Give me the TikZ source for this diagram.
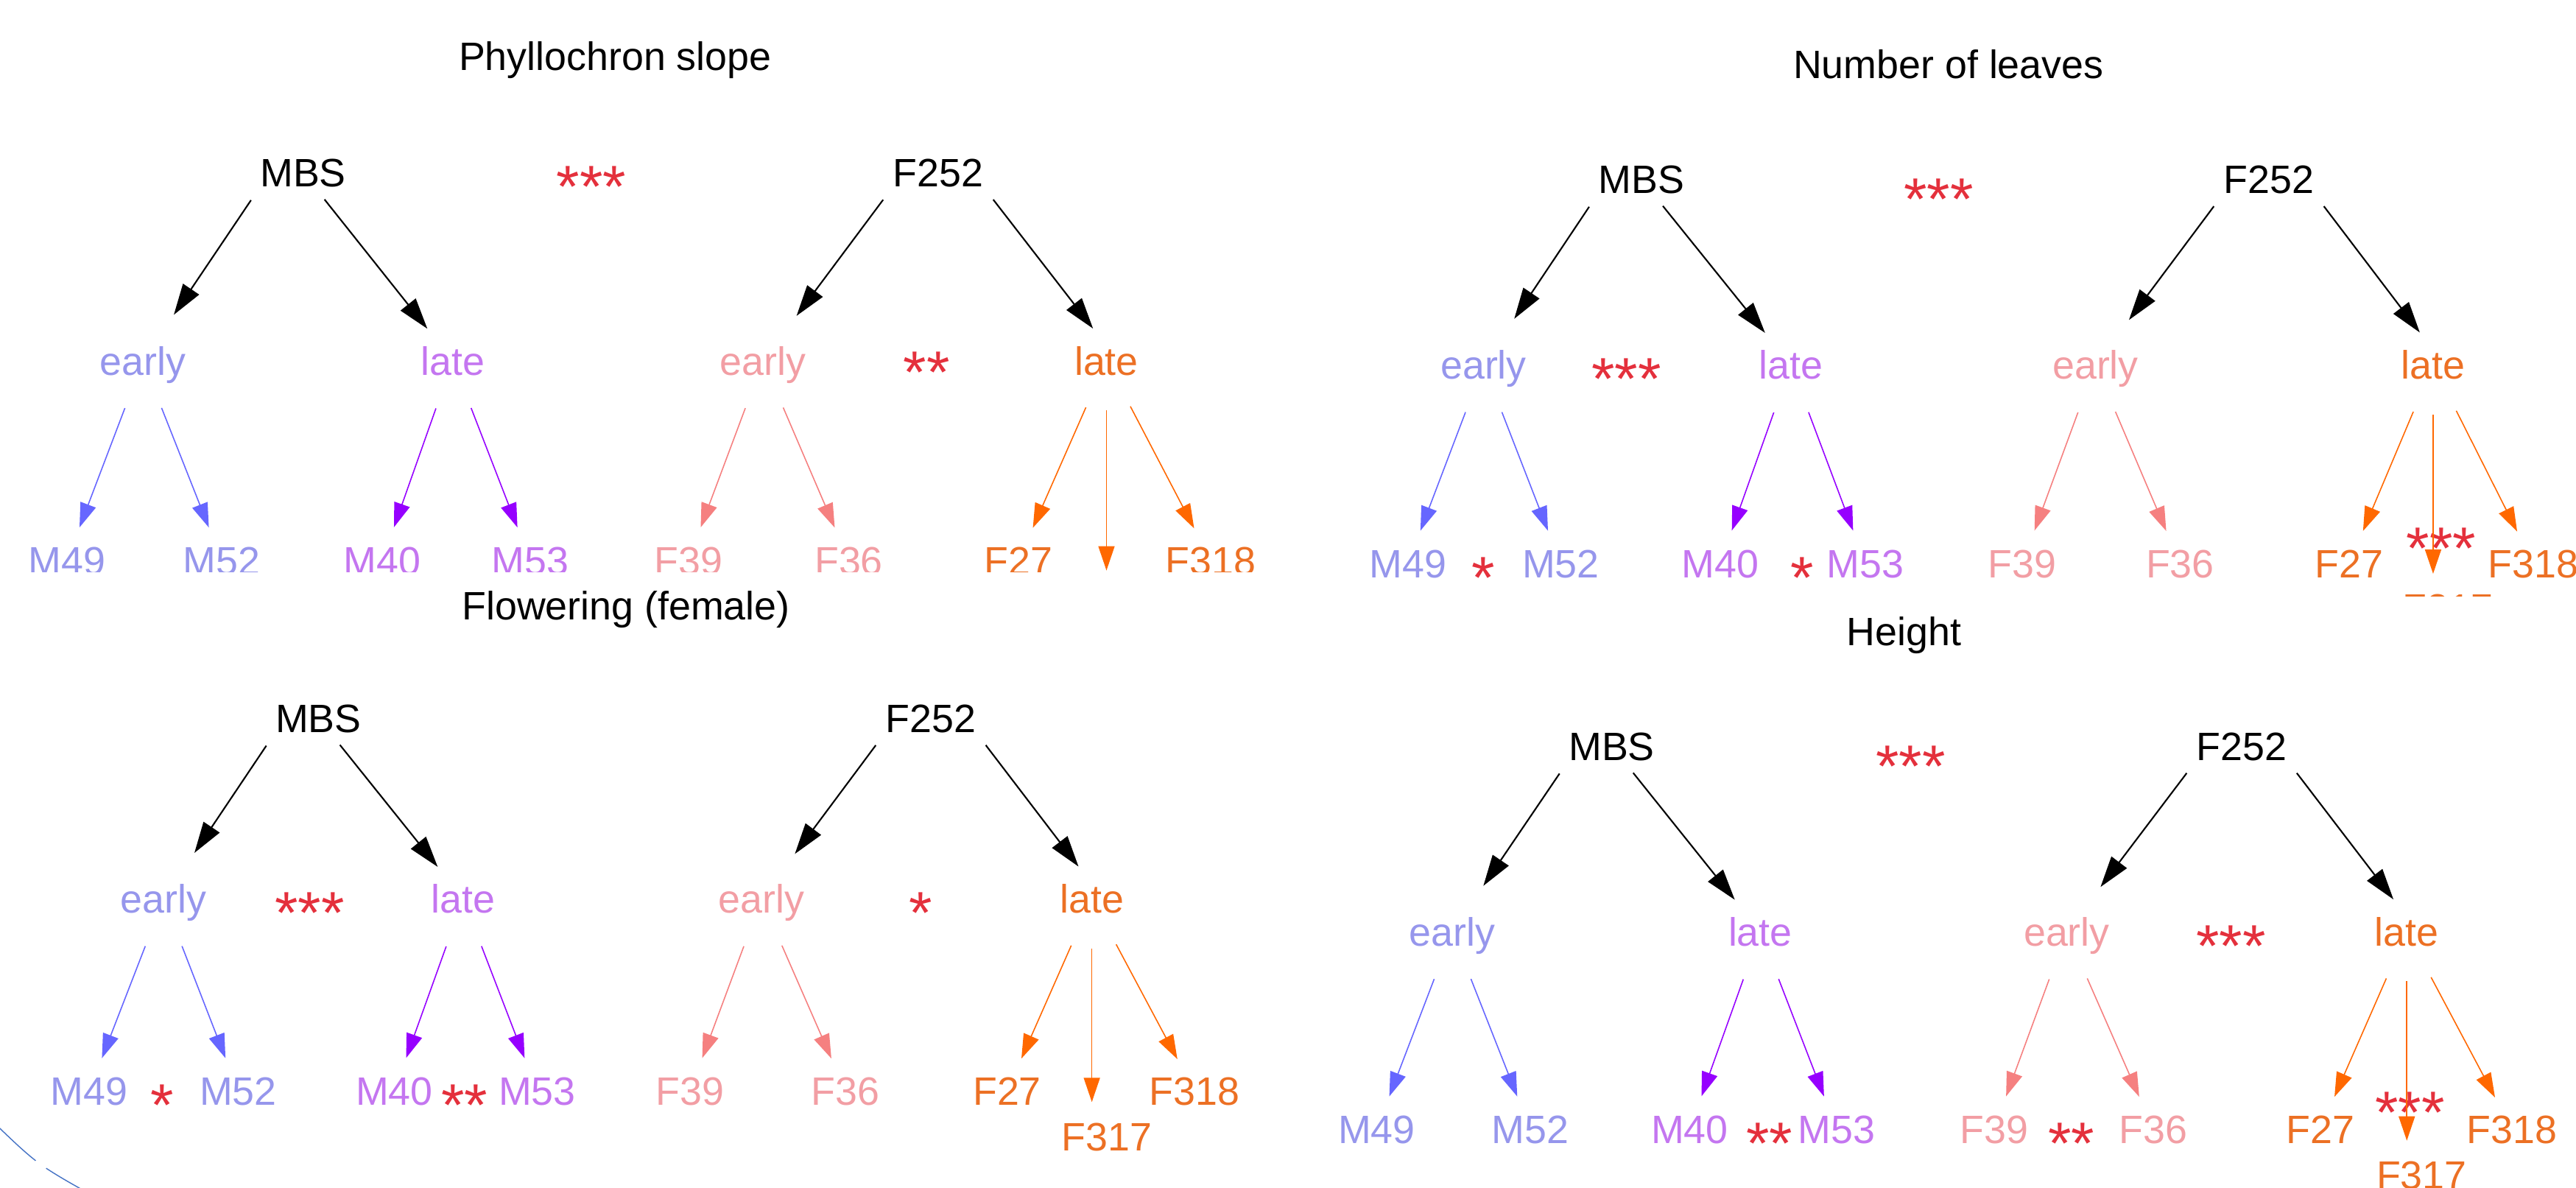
\documentclass[tikz,border=0pt]{standalone}
\usepackage{fontspec}
\setmainfont{Liberation Sans}
\usepackage{tikz}
\usetikzlibrary{arrows.meta}

\definecolor{earlyMtxt}{RGB}{150,150,236}
\definecolor{earlyMarr}{RGB}{102,102,255}
\definecolor{lateMtxt}{RGB}{196,118,240}
\definecolor{lateMarr}{RGB}{150,0,255}
\definecolor{earlyFtxt}{RGB}{242,158,164}
\definecolor{earlyFarr}{RGB}{245,128,128}
\definecolor{lateFtxt}{RGB}{236,112,36}
\definecolor{lateFarr}{RGB}{255,104,0}
\definecolor{sigred}{RGB}{228,48,60}
\definecolor{slideblue}{RGB}{68,114,196}

\begin{document}
\begin{tikzpicture}[
    x=0.022309cm, y=-0.022309cm,
    lbl/.style={inner sep=0pt, text height=11pt, text depth=0pt, font=\fontsize{15.3}{18}\selectfont},
    root/.style={lbl, text=black},
    earlyM/.style={lbl, text=earlyMtxt},
    lateM/.style={lbl, text=lateMtxt},
    earlyF/.style={lbl, text=earlyFtxt},
    lateF/.style={lbl, text=lateFtxt},
    sig/.style={inner sep=0pt, anchor=base, yshift=-13.4pt, text=sigred, font=\fontsize{23}{26}\selectfont},
    topedge/.style={-{Triangle[length=0.42cm, width=0.26cm]}, line width=0.6pt, shorten <=6pt, shorten >=8.5pt},
    lowedge/.style={-{Triangle[length=0.33cm, width=0.22cm]}, line width=0.45pt, shorten <=13.5pt, shorten >=7.5pt},
    slide/.style={draw=slideblue, line width=0.4pt}]

\useasboundingbox (0,0) rectangle (1568,722.6);

% Phyllochron slope
\begin{scope}[name prefix=ph-]
\clip (0,0) rectangle (790,348);
\node[root] (ttl) at (374.4,34) {Phyllochron slope};
\node[root] (mbs) at (184.5,105) {MBS};
\node[sig] (s0) at (360,105) {***};
\node[root] (f252) at (571,105) {F252};
% groups
\node[earlyM] (em) at (87,219.5) {early};
\node[lateM] (lm) at (275.6,219.5) {late};
\node[earlyF] (ef) at (464.5,219.5) {early};
\node[sig] (s1) at (564,218) {**};
\node[lateF] (lf) at (673.5,219.5) {late};
% lines
\node[earlyM] (m49) at (40.8,341) {M49};
\node[earlyM] (m52) at (135,341) {M52};
\node[lateM] (m40) at (232.7,341) {M40};
\node[lateM] (m53) at (322.7,341) {M53};
\node[earlyF] (f39) at (419,341) {F39};
\node[earlyF] (f36) at (516.6,341) {F36};
\node[lateF] (f27) at (620,341) {F27};
\node[lateF] (f318) at (737,341) {F318};
\node[lateF] (f317) at (682,368) {F317};
\end{scope}

% Number of leaves
\begin{scope}[name prefix=nl-]
\clip (790,0) rectangle (1568,363);
\node[root] (ttl) at (1186,39) {Number of leaves};
\node[root] (mbs) at (999,109) {MBS};
\node[sig] (s0) at (1180,112.5) {***};
\node[root] (f252) at (1381,109) {F252};
% groups
\node[earlyM] (em) at (903,222) {early};
\node[sig] (s1) at (990,222) {***};
\node[lateM] (lm) at (1090,222) {late};
\node[earlyF] (ef) at (1275.5,222) {early};
\node[lateF] (lf) at (1481,222) {late};
% lines
\node[earlyM] (m49) at (857,343) {M49};
\node[sig] (s2) at (903,343) {*};
\node[earlyM] (m52) at (950,343) {M52};
\node[lateM] (m40) at (1047,343) {M40};
\node[sig] (s3) at (1097,343) {*};
\node[lateM] (m53) at (1135.5,343) {M53};
\node[earlyF] (f39) at (1231,343) {F39};
\node[earlyF] (f36) at (1327,343) {F36};
\node[lateF] (f27) at (1430,343) {F27};
\node[sig] (s4) at (1486,325) {***};
\node[lateF] (f318) at (1542,343) {F318};
\node[lateF] (f317) at (1490,370) {F317};
\end{scope}

% Flowering (female)
\begin{scope}[name prefix=fl-]
\node[root] (ttl) at (381,368.7) {Flowering (female)};
\node[root] (mbs) at (193.8,437) {MBS};
\node[root] (f252) at (566.5,437) {F252};
% groups
\node[earlyM] (em) at (99.6,547) {early};
\node[sig] (s1) at (188.4,547) {***};
\node[lateM] (lm) at (282,547) {late};
\node[earlyF] (ef) at (463.5,547) {early};
\node[sig] (s2) at (560.5,547) {*};
\node[lateF] (lf) at (664.6,547) {late};
% lines
\node[earlyM] (m49) at (54.3,664) {M49};
\node[sig] (s3) at (98.8,664) {*};
\node[earlyM] (m52) at (145,664) {M52};
\node[lateM] (m40) at (240,664) {M40};
\node[sig] (s4) at (282.7,664) {**};
\node[lateM] (m53) at (327,664) {M53};
\node[earlyF] (f39) at (420,664) {F39};
\node[earlyF] (f36) at (514.7,664) {F36};
\node[lateF] (f27) at (613,664) {F27};
\node[lateF] (f318) at (727,664) {F318};
\node[lateF] (f317) at (673.6,691.5) {F317};
\end{scope}

% Height
\begin{scope}[name prefix=ht-]
\node[root] (ttl) at (1159,384) {Height};
\node[root] (mbs) at (981,454) {MBS};
\node[sig] (s0) at (1163,458) {***};
\node[root] (f252) at (1364.5,454) {F252};
% groups
\node[earlyM] (em) at (884,567) {early};
\node[lateM] (lm) at (1071.5,567) {late};
\node[earlyF] (ef) at (1258,567) {early};
\node[sig] (s1) at (1358,567) {***};
\node[lateF] (lf) at (1465,567) {late};
% lines
\node[earlyM] (m49) at (838,687.3) {M49};
\node[earlyM] (m52) at (931.4,687.3) {M52};
\node[lateM] (m40) at (1028.5,687.3) {M40};
\node[sig] (s2) at (1077,687.3) {**};
\node[lateM] (m53) at (1118,687.3) {M53};
\node[earlyF] (f39) at (1213.7,687.3) {F39};
\node[sig] (s3) at (1260.7,687.3) {**};
\node[earlyF] (f36) at (1310.8,687.3) {F36};
\node[lateF] (f27) at (1412.3,687.3) {F27};
\node[sig] (s4) at (1467,668.7) {***};
\node[lateF] (f318) at (1529,687.3) {F318};
\node[lateF] (f317) at (1474,715) {F317};
\end{scope}

% Edges of the four trees
\foreach \p in {ph-, nl-, fl-, ht-} {
    \draw[topedge, shorten >=14.5pt] (\p mbs.south west) -- (\p em);
    \draw[topedge] (\p mbs) -- (\p lm);
    \draw[topedge, shorten >=14.5pt] (\p f252.south west) -- (\p ef);
    \draw[topedge] (\p f252.south east) -- (\p lf.north);
    \foreach \c in {m49, m52} \draw[lowedge, draw=earlyMarr] (\p em) -- (\p \c);
    \foreach \c in {m40, m53} \draw[lowedge, draw=lateMarr] (\p lm) -- (\p \c);
    \foreach \c in {f39, f36} \draw[lowedge, draw=earlyFarr] (\p ef) -- (\p \c);
    \foreach \c in {f27, f318} \draw[lowedge, draw=lateFarr] (\p lf) -- (\p \c);
    \draw[lowedge, draw=lateFarr] (\p lf) -- (\p lf |- \p f317.north);
}

% Slide border arc
\draw[slide] (-4,683) .. controls (6,692.5) and (13,699.5) .. (21.7,706.4);
\draw[slide] (28.1,711) .. controls (35,715.5) and (41,719) .. (50,724);

\end{tikzpicture}
\end{document}
